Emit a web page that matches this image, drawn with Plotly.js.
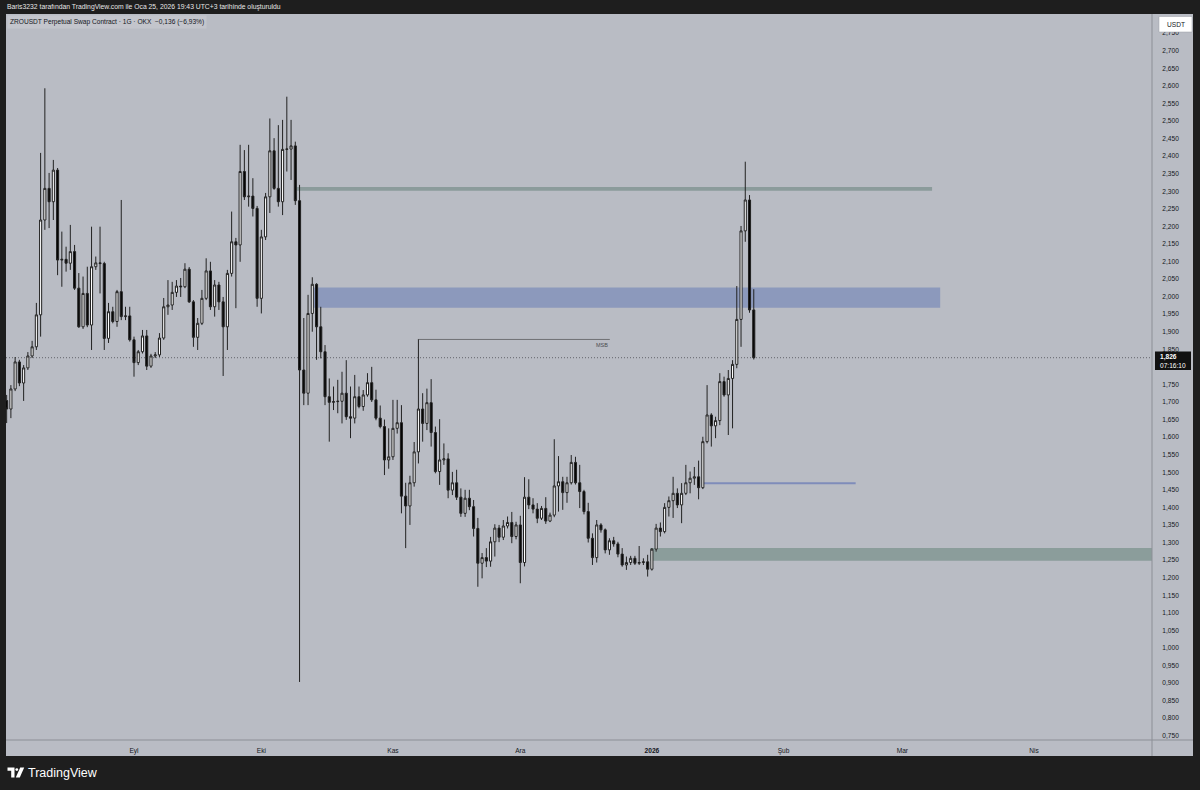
<!DOCTYPE html>
<html>
<head>
<meta charset="utf-8">
<script src="https://cdn.plot.ly/plotly-3.0.1.min.js"></script>
<style>
  html, body { margin: 0; padding: 0; background: #1e1e1e; }
  #chart { width: 1200px; height: 790px; }
</style>
</head>
<body>
<div id="chart"></div>
<script>
// ---- Data (daily candles, ZROUSDT, starting 2025-08-02) ----
const startDate = '2025-08-02';

const opens = [
1.704,1.680,1.737,1.814,1.754,1.797,1.831,1.857,1.948,2.218,
2.308,2.270,2.360,2.104,2.106,2.095,2.128,2.024,1.914,2.009,
1.919,2.085,2.096,2.094,1.881,1.957,1.929,2.014,1.943,1.945,
1.877,1.812,1.843,1.888,1.802,1.831,1.834,1.882,1.971,1.976,
2.012,2.030,2.028,2.078,1.985,1.884,1.924,1.995,2.073,1.971,
2.033,1.985,1.914,2.066,2.156,2.147,2.356,2.284,2.286,2.251,
1.995,2.170,2.284,2.415,2.308,2.270,2.419,2.420,2.429,2.273,
1.791,1.725,1.952,2.035,1.914,1.843,1.715,1.699,1.701,1.702,
1.725,1.658,1.654,1.715,1.687,1.720,1.755,1.706,1.654,1.630,
1.535,1.544,1.625,1.641,1.432,1.404,1.470,1.558,1.680,1.639,
1.698,1.613,1.502,1.535,1.538,1.449,1.470,1.429,1.383,1.426,
1.402,1.340,1.241,1.257,1.247,1.302,1.341,1.315,1.347,1.357,
1.317,1.350,1.243,1.429,1.407,1.395,1.369,1.397,1.361,1.378,
1.461,1.473,1.442,1.470,1.528,1.470,1.445,1.388,1.312,1.257,
1.350,1.336,1.279,1.305,1.296,1.267,1.236,1.243,1.255,1.241,
1.243,1.245,1.224,1.281,1.341,1.331,1.400,1.419,1.440,1.407,
1.440,1.470,1.483,1.487,1.456,1.587,1.663,1.632,1.647,1.758,
1.720,1.767,1.807,1.935,2.187,2.275,1.962];

const highs = [
1.720,1.748,1.828,1.820,1.805,1.842,1.874,1.982,2.409,2.593,
2.352,2.389,2.366,2.185,2.142,2.204,2.147,2.067,2.057,2.085,
2.199,2.114,2.199,2.099,1.982,1.971,2.019,2.275,1.971,1.971,
1.886,1.848,1.905,1.905,1.837,1.842,1.896,1.996,2.047,2.042,
2.047,2.053,2.095,2.084,1.990,1.939,2.019,2.109,2.099,2.047,
2.042,1.999,2.076,2.242,2.167,2.432,2.417,2.432,2.337,2.258,
2.190,2.295,2.507,2.451,2.488,2.503,2.569,2.503,2.441,2.318,
1.939,2.005,2.055,2.038,1.971,1.862,1.767,1.744,1.763,1.786,
1.819,1.744,1.777,1.744,1.734,1.782,1.800,1.735,1.690,1.650,
1.625,1.706,1.706,1.691,1.470,1.490,1.586,1.878,1.725,1.738,
1.765,1.630,1.651,1.582,1.554,1.501,1.507,1.454,1.450,1.450,
1.421,1.370,1.270,1.284,1.316,1.352,1.350,1.364,1.374,1.387,
1.359,1.376,1.486,1.480,1.426,1.412,1.404,1.429,1.385,1.594,
1.546,1.487,1.487,1.549,1.544,1.521,1.450,1.413,1.326,1.364,
1.355,1.340,1.312,1.316,1.302,1.284,1.260,1.262,1.262,1.290,
1.255,1.265,1.284,1.353,1.357,1.412,1.431,1.487,1.454,1.469,
1.521,1.502,1.515,1.533,1.601,1.748,1.668,1.658,1.782,1.772,
1.791,1.819,2.030,2.201,2.384,2.289,2.021];

const lows = [
1.640,1.654,1.731,1.745,1.703,1.791,1.825,1.848,1.886,2.190,
2.195,2.218,2.061,2.028,2.071,2.076,2.019,1.911,1.908,1.913,
1.848,2.076,2.009,1.848,1.868,1.924,1.914,1.933,1.933,1.872,
1.772,1.805,1.838,1.791,1.797,1.825,1.828,1.877,1.948,1.962,
1.999,1.999,2.024,1.982,1.857,1.848,1.919,1.990,1.962,1.943,
1.962,1.774,1.848,2.057,1.967,2.099,2.275,2.256,2.228,1.971,
1.952,2.161,2.238,2.304,2.256,2.232,2.356,2.332,2.261,0.903,
1.691,1.691,1.900,1.820,1.824,1.691,1.587,1.677,1.668,1.639,
1.649,1.597,1.639,1.682,1.675,1.715,1.700,1.648,1.625,1.492,
1.510,1.535,1.610,1.383,1.284,1.350,1.459,1.525,1.587,1.620,
1.573,1.497,1.464,1.521,1.426,1.435,1.421,1.373,1.373,1.392,
1.317,1.174,1.198,1.230,1.231,1.260,1.301,1.307,1.340,1.298,
1.309,1.184,1.232,1.395,1.383,1.355,1.364,1.353,1.358,1.372,
1.388,1.393,1.413,1.465,1.465,1.398,1.380,1.300,1.236,1.243,
1.328,1.269,1.265,1.288,1.258,1.231,1.222,1.236,1.236,1.236,
1.236,1.203,1.220,1.274,1.317,1.326,1.374,1.370,1.398,1.355,
1.435,1.440,1.464,1.423,1.452,1.582,1.573,1.597,1.634,1.715,
1.606,1.625,1.796,1.857,2.156,1.954,1.821];

const closes = [
1.680,1.737,1.814,1.754,1.797,1.831,1.857,1.948,2.218,2.308,
2.270,2.360,2.104,2.106,2.095,2.128,2.024,1.914,2.009,1.919,
2.085,2.096,2.094,1.881,1.957,1.929,2.014,1.943,1.945,1.877,
1.812,1.843,1.888,1.802,1.831,1.834,1.882,1.971,1.976,2.012,
2.030,2.028,2.078,1.985,1.884,1.924,1.995,2.073,1.971,2.033,
1.985,1.914,2.066,2.156,2.147,2.356,2.284,2.286,2.251,1.995,
2.170,2.284,2.415,2.308,2.270,2.419,2.420,2.429,2.273,1.791,
1.725,1.952,2.035,1.914,1.843,1.715,1.699,1.701,1.702,1.725,
1.658,1.654,1.715,1.687,1.720,1.755,1.706,1.654,1.630,1.535,
1.544,1.625,1.641,1.432,1.404,1.470,1.558,1.680,1.639,1.698,
1.613,1.502,1.535,1.538,1.449,1.470,1.429,1.383,1.426,1.402,
1.340,1.241,1.257,1.247,1.302,1.341,1.315,1.347,1.357,1.317,
1.350,1.243,1.429,1.407,1.395,1.369,1.397,1.361,1.378,1.461,
1.473,1.442,1.470,1.528,1.470,1.445,1.388,1.312,1.257,1.350,
1.336,1.279,1.305,1.296,1.267,1.236,1.243,1.255,1.241,1.243,
1.245,1.224,1.281,1.341,1.331,1.400,1.419,1.440,1.407,1.440,
1.470,1.483,1.487,1.456,1.587,1.663,1.632,1.647,1.758,1.720,
1.767,1.807,1.935,2.187,2.275,1.962,1.826];

// Drawn levels / zones (price levels and date spans)
const resistanceZone = ['2025-10-09 10:00', '2026-03-08 00:00', 2.301, 2.312];
const supplyZone     = ['2025-10-13 05:00', '2026-03-09 22:00', 1.968, 2.026];
const demandZone     = ['2025-12-31 14:00', '2026-06-30 00:00', 1.248, 1.284];
const msbLevel       = ['2025-11-06 21:00', '2025-12-22 02:00', 1.878];
const blueLevel      = ['2026-01-13 00:00', '2026-02-18 00:00', 1.469];
const lastPrice = 1.826;
const lastPriceText = '1,826';
const countdownText = '07:16:10';

// Axis ticks
const xTickVals = ['2025-09-01','2025-10-01','2025-11-01','2025-12-01','2026-01-01','2026-02-01','2026-03-01','2026-04-01'];
const xTickText = ['Eyl','Eki','Kas','Ara','<b>2026</b>','Şub','Mar','Nis'];
const yTickVals = [0.75,0.80,0.85,0.90,0.95,1.00,1.05,1.10,1.15,1.20,1.25,1.30,1.35,1.40,1.45,1.50,1.55,1.60,1.65,1.70,1.75,1.85,1.90,1.95,2.00,2.05,2.10,2.15,2.20,2.25,2.30,2.35,2.40,2.45,2.50,2.55,2.60,2.65,2.70,2.75];
const yTickText = ['0,750','0,800','0,850','0,900','0,950','1,000','1,050','1,100','1,150','1,200','1,250','1,300','1,350','1,400','1,450','1,500','1,550','1,600','1,650','1,700','1,750','1,850','1,900','1,950','2,000','2,050','2,100','2,150','2,200','2,250','2,300','2,350','2,400','2,450','2,500','2,550','2,600','2,650','2,700','2,750'];

// ---- Build dates ----
const dates = [];
{
  const p = startDate.split('-').map(Number);
  for (let i = 0; i < closes.length; i++) {
    const d = new Date(Date.UTC(p[0], p[1] - 1, p[2] + i));
    dates.push(d.toISOString().slice(0, 10));
  }
}

// ---- Layout geometry (pixels) ----
const W = 1200, H = 790;
const M = { l: 6, r: 48, t: 14, b: 50 };
const PW = W - M.l - M.r, PH = H - M.t - M.b;
const px = (x) => (x - M.l) / PW;           // pixel x -> paper x
const py = (y) => (H - M.b - y) / PH;       // pixel y -> paper y

const FONT = 'Liberation Sans, Arial, sans-serif';
const BG = '#b9bcc4';

const shapes = [
  // chart background (plot + axis strips)
  { type: 'rect', xref: 'paper', yref: 'paper', x0: px(6), x1: px(1193), y0: py(756), y1: py(14),
    fillcolor: BG, line: { width: 0 }, layer: 'below' },
  // zones
  { type: 'rect', xref: 'x', yref: 'y', x0: resistanceZone[0], x1: resistanceZone[1], y0: resistanceZone[2], y1: resistanceZone[3],
    fillcolor: '#8b9b9b', line: { width: 0 }, layer: 'below' },
  { type: 'rect', xref: 'x', yref: 'y', x0: supplyZone[0], x1: supplyZone[1], y0: supplyZone[2], y1: supplyZone[3],
    fillcolor: '#8c99bc', line: { width: 0 }, layer: 'below' },
  { type: 'rect', xref: 'x', yref: 'y', x0: demandZone[0], x1: demandZone[1], y0: demandZone[2], y1: demandZone[3],
    fillcolor: '#8b9d9b', line: { width: 0 }, layer: 'below' },
  { type: 'line', xref: 'x', yref: 'y', x0: msbLevel[0], x1: msbLevel[1], y0: msbLevel[2], y1: msbLevel[2],
    line: { color: '#6f7073', width: 1 }, layer: 'below' },
  { type: 'line', xref: 'x', yref: 'y', x0: blueLevel[0], x1: blueLevel[1], y0: blueLevel[2], y1: blueLevel[2],
    line: { color: '#7f8cba', width: 2 }, layer: 'below' },
  // last price dotted line
  { type: 'line', xref: 'paper', yref: 'y', x0: 0, x1: 1, y0: lastPrice, y1: lastPrice,
    line: { color: '#62656b', width: 1, dash: '1px,2px' }, layer: 'below' },
  // axis separators
  { type: 'line', xref: 'paper', yref: 'paper', x0: 0, x1: px(1193), y0: 0, y1: 0,
    line: { color: '#8c8f96', width: 1 } },
  { type: 'line', xref: 'paper', yref: 'paper', x0: 1, x1: 1, y0: py(756), y1: 1,
    line: { color: '#8c8f96', width: 1 } },
  // price label box
  { type: 'rect', xref: 'paper', yref: 'paper', x0: px(1155), x1: px(1191), y0: py(370), y1: py(351.5),
    fillcolor: '#111111', line: { width: 0 } },
  // USDT box
  { type: 'rect', xref: 'paper', yref: 'paper', x0: px(1159), x1: px(1192), y0: py(32), y1: py(16.5),
    fillcolor: '#ffffff', line: { color: '#9a9da4', width: 0.5 } },
  // TradingView logo (simplified)
  { type: 'path', xref: 'paper', yref: 'paper',
    path: `M ${px(7.5)} ${py(767.5)} L ${px(14.5)} ${py(767.5)} L ${px(14.5)} ${py(777.5)} L ${px(11.2)} ${py(777.5)} L ${px(11.2)} ${py(770.8)} L ${px(7.5)} ${py(770.8)} Z`,
    fillcolor: '#ffffff', line: { width: 0 } },
  { type: 'circle', xref: 'paper', yref: 'paper', x0: px(15.4), x1: px(18.2), y0: py(771), y1: py(768.2),
    fillcolor: '#ffffff', line: { width: 0 } },
  { type: 'path', xref: 'paper', yref: 'paper',
    path: `M ${px(20.2)} ${py(767.5)} L ${px(24.2)} ${py(767.5)} L ${px(19.8)} ${py(777.5)} L ${px(15.8)} ${py(777.5)} Z`,
    fillcolor: '#ffffff', line: { width: 0 } }
];

const annotations = [
  { xref: 'paper', yref: 'paper', x: px(5), y: py(7), xanchor: 'left', yanchor: 'middle', showarrow: false,
    text: 'Baris3232 tarafından TradingView.com ile Oca 25, 2026 19:43 UTC+3 tarihinde oluşturuldu',
    font: { family: FONT, size: 6.8, color: '#e6e6e6' } },
  { xref: 'paper', yref: 'paper', x: px(7), y: py(22.5), xanchor: 'left', yanchor: 'middle', showarrow: false,
    text: 'ZROUSDT Perpetual Swap Contract · 1G · OKX&nbsp;&nbsp;−0,136 (−6,93%)',
    bgcolor: '#c3c5cc', borderpad: 2,
    font: { family: FONT, size: 6.6, color: '#131722' } },
  { xref: 'paper', yref: 'paper', x: px(1175.5), y: py(24.3), xanchor: 'center', yanchor: 'middle', showarrow: false,
    text: 'USDT', font: { family: FONT, size: 6.6, color: '#131722' } },
  { xref: 'paper', yref: 'paper', x: px(1158), y: py(356.5), xanchor: 'left', yanchor: 'middle', showarrow: false,
    text: '<b>' + lastPriceText + '</b>', font: { family: FONT, size: 6.6, color: '#ffffff' } },
  { xref: 'paper', yref: 'paper', x: px(1157.5), y: py(365), xanchor: 'left', yanchor: 'middle', showarrow: false,
    text: countdownText, font: { family: FONT, size: 6.6, color: '#ffffff' } },
  { xref: 'x', yref: 'y', x: msbLevel[1], y: msbLevel[2], xanchor: 'right', yanchor: 'top', yshift: -1, showarrow: false,
    text: 'MSB', font: { family: FONT, size: 5.5, color: '#4a4b4f' } },
  { xref: 'paper', yref: 'paper', x: px(26), y: py(772.5), xanchor: 'left', yanchor: 'middle', showarrow: false,
    text: 'TradingView', font: { family: FONT, size: 12.5, color: '#ffffff' } }
];

const trace = {
  type: 'candlestick',
  x: dates, open: opens, high: highs, low: lows, close: closes,
  increasing: { line: { color: '#222222', width: 1 }, fillcolor: '#ffffff' },
  decreasing: { line: { color: '#222222', width: 1 }, fillcolor: '#050505' },
  whiskerwidth: 0,
  hoverinfo: 'skip',
  showlegend: false
};

const layout = {
  width: W, height: H,
  margin: M,
  paper_bgcolor: '#1e1e1e',
  plot_bgcolor: 'rgba(0,0,0,0)',
  showlegend: false,
  font: { family: FONT, color: '#131722' },
  xaxis: {
    type: 'date',
    range: ['2025-08-01 20:20', '2026-04-28 19:26'],
    rangeslider: { visible: false },
    tickmode: 'array', tickvals: xTickVals, ticktext: xTickText,
    showgrid: false, zeroline: false, showline: false,
    ticks: 'outside', ticklen: 4, tickcolor: 'rgba(0,0,0,0)',
    tickfont: { family: FONT, size: 6.6, color: '#131722' },
    fixedrange: true
  },
  yaxis: {
    side: 'right',
    range: [0.7378, 2.8044],
    tickmode: 'array', tickvals: yTickVals, ticktext: yTickText,
    showgrid: false, zeroline: false, showline: false,
    ticks: 'outside', ticklen: 8, tickcolor: 'rgba(0,0,0,0)',
    tickfont: { family: FONT, size: 6.6, color: '#131722' },
    fixedrange: true
  },
  shapes: shapes,
  annotations: annotations
};

Plotly.newPlot('chart', [trace], layout, { displayModeBar: false, staticPlot: true });
</script>
</body>
</html>
